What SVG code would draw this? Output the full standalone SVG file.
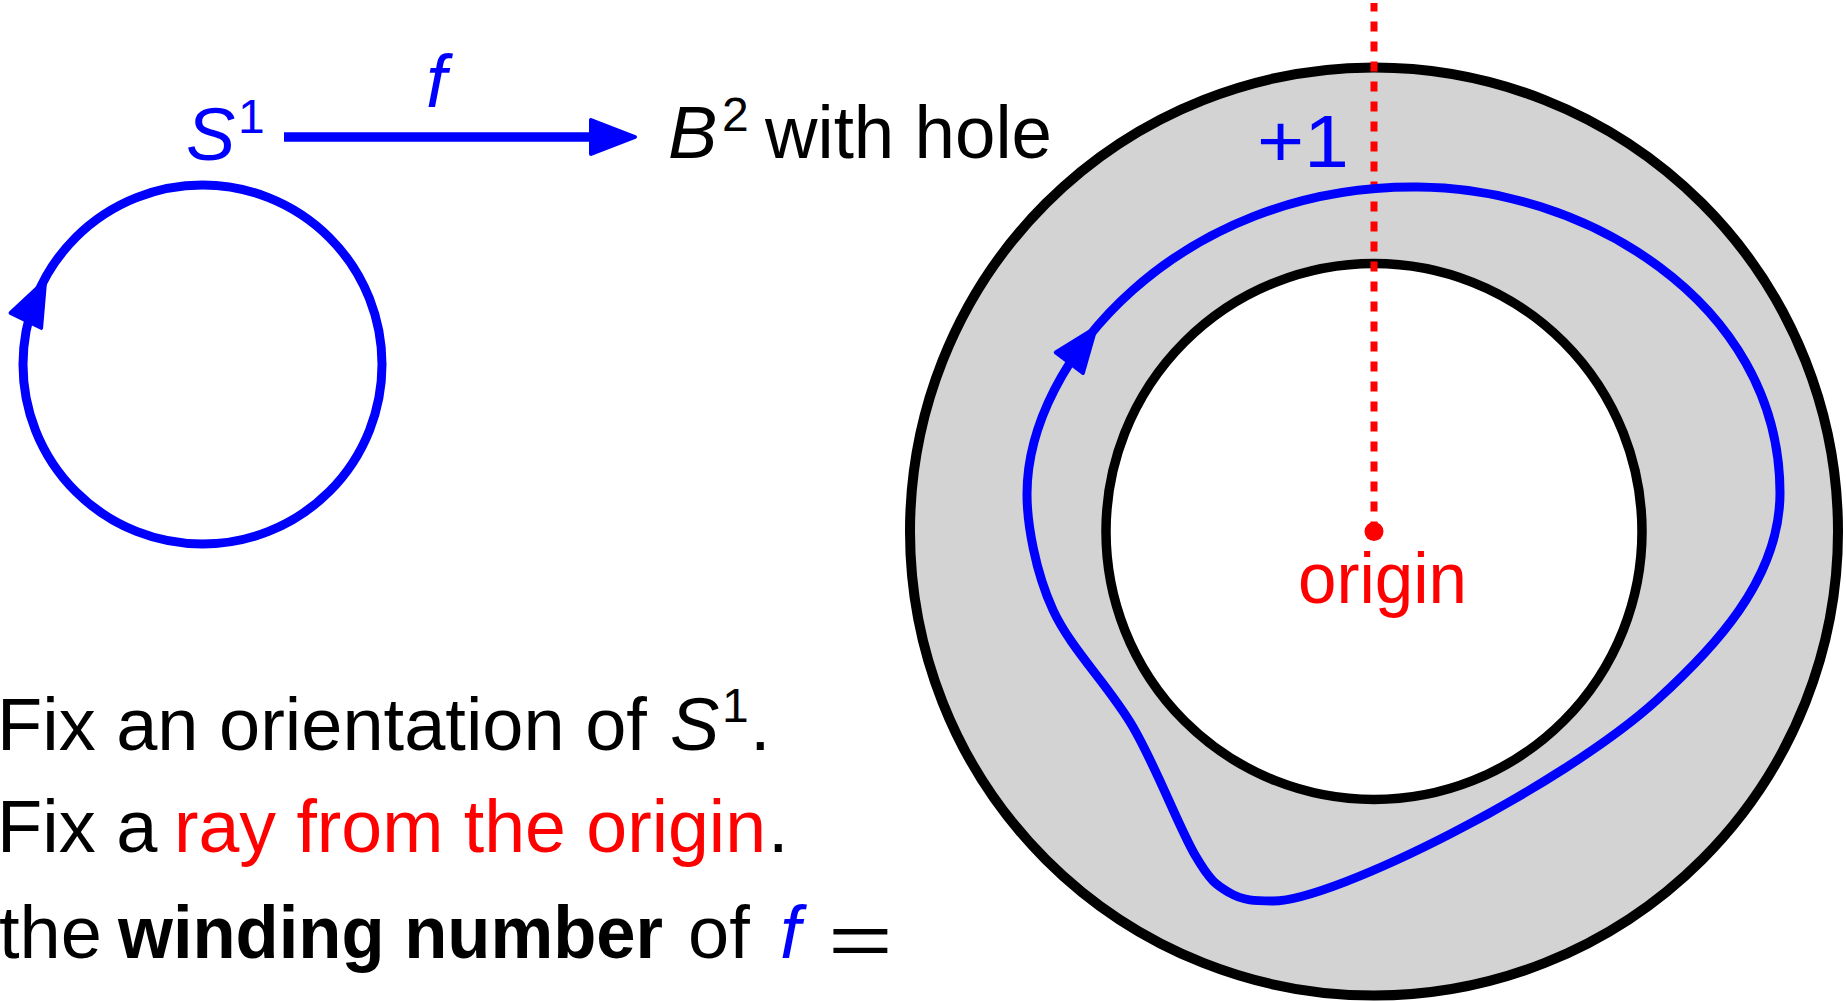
<svg xmlns="http://www.w3.org/2000/svg" width="1846" height="1001" viewBox="0 0 1846 1001">
<style>
  text{font-family:"Liberation Sans",Arial,sans-serif;font-size:74px;fill:#000}
  .b{fill:#0000ff}
  .r{fill:#ff0000}
  .it{font-style:italic}
  .sup{font-size:48px}
  .bold{font-weight:bold}
  .blue{fill:none;stroke:#0000ff;stroke-width:9}
  .ring{stroke:#000;stroke-width:10}
</style>
<defs>
  <path id="ah" d="M-2,0 L-46,-17 L-46,17 Z" fill="#0000ff" stroke="#0000ff" stroke-width="4" stroke-linejoin="round"/>
</defs>
<rect x="0" y="0" width="1846" height="1001" fill="#fff"/>

<g id="annulus">
  <circle class="ring" cx="1374" cy="531.5" r="464" fill="#d3d3d3"/>
  <circle cx="1374" cy="531.5" r="268" fill="#fff" stroke="#000" stroke-width="9.5"/>
</g>

<g id="ray">
  <line x1="1374" y1="531.5" x2="1374" y2="3" stroke="#ff0000" stroke-width="7" stroke-dasharray="10 10"/>
  <circle cx="1374" cy="531.5" r="9.5" fill="#ff0000"/>
</g>

<g id="loop">
  <path class="blue" d="M1027,494 C1027,360 1180,187 1413,187 C1580,185 1780,300 1780,493 C1780,580 1712,650 1657,700 C1561,787 1334,901 1273,901 C1255,901 1243,900.7 1230,893 C1217,885.3 1211.2,882.7 1195,855 C1178.8,827.3 1156.7,767.8 1133,727 C1109.3,686.2 1070.7,648.8 1053,610 C1035.3,571.2 1027,524 1027,494 Z"/>
  <use href="#ah" transform="translate(1097,326) rotate(-53)"/>
</g>

<g id="s1-circle">
  <circle class="blue" cx="202.5" cy="364.5" r="179.5"/>
  <use href="#ah" transform="translate(46,279) rotate(-64)"/>
</g>

<g id="connectors">
  <line x1="284" y1="137" x2="596" y2="137" stroke="#0000ff" stroke-width="9.5"/>
  <use href="#ah" transform="translate(637,137)"/>
</g>

<g id="label-S1">
  <text x="186" y="160" class="b it">S</text>
  <text x="238" y="133" class="b sup">1</text>
</g>
<g id="label-f">
  <text x="426" y="107" class="b it">f</text>
</g>
<g id="label-B2">
  <text x="668" y="158" class="it">B</text>
  <text x="722" y="131" class="sup">2</text>
  <text x="765" y="158" textLength="287" lengthAdjust="spacingAndGlyphs">with hole</text>
</g>
<g id="label-plus1">
  <text x="1257" y="167" class="b" textLength="92" lengthAdjust="spacingAndGlyphs">+1</text>
</g>
<g id="label-origin">
  <text x="1298" y="603" class="r" textLength="169" lengthAdjust="spacingAndGlyphs" style="font-size:72px">origin</text>
</g>

<g id="caption">
  <text x="-3" y="750">Fix an orientation of </text>
  <text x="670" y="750" class="it">S</text>
  <text x="722" y="722" class="sup">1</text>
  <text x="750" y="750">.</text>

  <text x="-3" y="852">Fix a </text>
  <text x="174" y="852" class="r" textLength="592" lengthAdjust="spacingAndGlyphs">ray from the origin</text>
  <text x="768" y="852">.</text>

  <text x="-1" y="958">the </text>
  <text x="118" y="958" class="bold" textLength="545" lengthAdjust="spacingAndGlyphs">winding number</text>
  <text x="688" y="958">of</text>
  <text x="780" y="958" class="b it">f</text>
  <text transform="translate(828,965) scale(1.5,1)" x="0" y="0">=</text>
</g>
</svg>
